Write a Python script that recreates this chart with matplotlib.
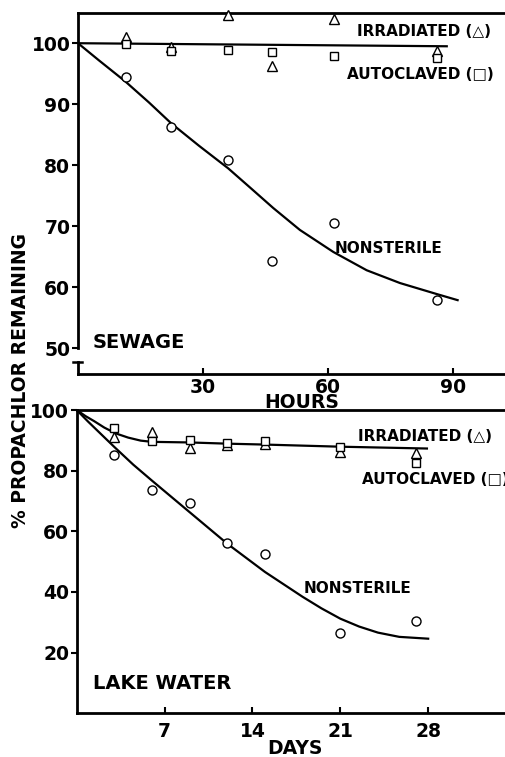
import numpy as np
import matplotlib
matplotlib.use('Agg')
import matplotlib.pyplot as plt

plt.rcParams['font.family'] = ['DejaVu Sans']
plt.rcParams['font.weight'] = 'bold'

# ---- sewage (hours) ----
sew_hours = [11.5, 22.3, 36.0, 46.6, 61.3, 86.0]
sew_irradiated = [101.1, 99.4, 104.6, 96.3, 104.0, 98.7]
sew_autoclaved = [99.8, 98.7, 98.9, 98.6, 97.9, 97.6]
sew_nonsterile = [94.5, 86.3, 80.9, 64.3, 70.6, 57.9]

# fitted curves
sew_sterile_fit_x = [0, 88.4]
sew_sterile_fit_y = [100, 99.5]
sew_nonsterile_fit_x = [0, 5, 11.4, 17, 22.3, 29, 36, 41.5, 46.8, 53.2, 61.2, 69.2, 77.2, 86, 91]
sew_nonsterile_fit_y = [100, 97.2, 93.7, 90.3, 86.9, 83.2, 79.5, 76.2, 73.0, 69.4, 65.8, 62.8, 60.7, 58.9, 57.9]

# ---- lake water (days) ----
lake_days = [3, 6, 9, 12, 15, 21, 27]
lake_irradiated = [91.0, 92.6, 87.5, 88.5, 88.8, 86.1, 85.7]
lake_autoclaved = [94.1, 89.7, 90.1, 89.2, 89.7, 87.7, 82.6]
lake_nonsterile = [85.0, 73.7, 69.4, 56.1, 52.4, 26.6, 30.4]

lake_sterile_fit_x = [0, 0.7, 1.4, 2.2, 3.1, 4.1, 5.1, 6, 9, 12, 15, 21, 27.9]
lake_sterile_fit_y = [100, 98.0, 96.3, 94.2, 92.3, 90.9, 89.9, 89.5, 89.3, 88.9, 88.6, 87.9, 87.3]
lake_nonsterile_fit_x = [0, 0.9, 1.8, 3, 4.5, 6, 9, 12, 15, 18, 19.5, 21, 22.5, 24, 25.7, 28]
lake_nonsterile_fit_y = [100, 96.2, 92.6, 87.8, 82.0, 76.7, 66.3, 55.9, 46.6, 38.4, 34.6, 31.2, 28.6, 26.6, 25.2, 24.6]

fig = plt.figure(figsize=(5.06, 7.57), dpi=100)

W, H = 506.0, 757.0
ax1 = fig.add_axes([78 / W, 1 - 374 / H, 1 - 78 / W, (374 - 12.7) / H])
ax2 = fig.add_axes([76.7 / W, 1 - 713.3 / H, 1 - 76.7 / W, (713.3 - 410) / H])

mk = dict(linestyle='none', markerfacecolor='white', markeredgecolor='black',
          markeredgewidth=1.0, clip_on=False, zorder=3)

for ax in (ax1, ax2):
    for s in ('top', 'bottom', 'left'):
        ax.spines[s].set_linewidth(2.0)
    ax.spines['right'].set_visible(False)
    ax.tick_params(axis='y', direction='out', length=4, width=1.5, pad=1.5,
                   labelsize=13.5)
    ax.tick_params(axis='x', direction='in', length=4, width=1.5,
                   labelsize=13.5)

# sewage panel
ax1.plot(sew_sterile_fit_x, sew_sterile_fit_y, color='black', lw=1.6)
ax1.plot(sew_nonsterile_fit_x, sew_nonsterile_fit_y, color='black', lw=1.6)
ax1.plot(sew_hours, sew_irradiated, marker='^', markersize=7.5, **mk)
ax1.plot(sew_hours, sew_autoclaved, marker='s', markersize=5.5, **mk)
ax1.plot(sew_hours, sew_nonsterile, marker='o', markersize=6.5, **mk)
ax1.set_xlim(0, 102.6)
ax1.set_ylim(45.8, 105)
ax1.set_yticks([50, 60, 70, 80, 90, 100])
ax1.set_xticks([30, 60, 90])
ax1.tick_params(axis='x', pad=3)
ax1.spines['left'].set_bounds(50, 105)
# axis break below 50
ax1.plot([0, 0], [47.7, 45.8], color='black', lw=2.0, clip_on=False)
ax1.plot([-1.2, 1.0], [47.7, 47.7], color='black', lw=1.8, clip_on=False)
ax1.set_xlabel('HOURS', fontsize=13.5, fontweight='bold')
ax1.xaxis.set_label_coords(0.523, -0.052)

ax1.text(66.9, 101.85, 'IRRADIATED (△)', fontsize=11, va='center', ha='left')
ax1.text(64.5, 94.8, 'AUTOCLAVED (□)', fontsize=11, va='center', ha='left')
ax1.text(61.6, 66.4, 'NONSTERILE', fontsize=11, va='center', ha='left')
ax1.text(3.6, 50.9, 'SEWAGE', fontsize=14, va='center', ha='left')

# lake water panel
ax2.plot(lake_sterile_fit_x, lake_sterile_fit_y, color='black', lw=1.6)
ax2.plot(lake_nonsterile_fit_x, lake_nonsterile_fit_y, color='black', lw=1.6)
ax2.plot(lake_days, lake_irradiated, marker='^', markersize=7.5, **mk)
ax2.plot(lake_days, lake_autoclaved, marker='s', markersize=5.5, **mk)
ax2.plot(lake_days, lake_nonsterile, marker='o', markersize=6.5, **mk)
ax2.set_xlim(0, 34.2)
ax2.set_ylim(0, 100)
ax2.set_yticks([20, 40, 60, 80, 100])
ax2.set_xticks([7, 14, 21, 28])
ax2.tick_params(axis='x', pad=6)
ax2.set_xlabel('DAYS', fontsize=13.5, fontweight='bold')
ax2.xaxis.set_label_coords(0.508, -0.086)

ax2.text(22.4, 91.1, 'IRRADIATED (△)', fontsize=11, va='center', ha='left')
ax2.text(22.7, 77.2, 'AUTOCLAVED (□)', fontsize=11, va='center', ha='left')
ax2.text(18.05, 41.3, 'NONSTERILE', fontsize=11, va='center', ha='left')
ax2.text(1.3, 9.9, 'LAKE WATER', fontsize=14, va='center', ha='left')

fig.text(21 / W, 1 - 381 / H, '% PROPACHLOR REMAINING', rotation=90,
         fontsize=13.5, fontweight='bold', ha='center', va='center')

fig.savefig('out.png', dpi=100)
